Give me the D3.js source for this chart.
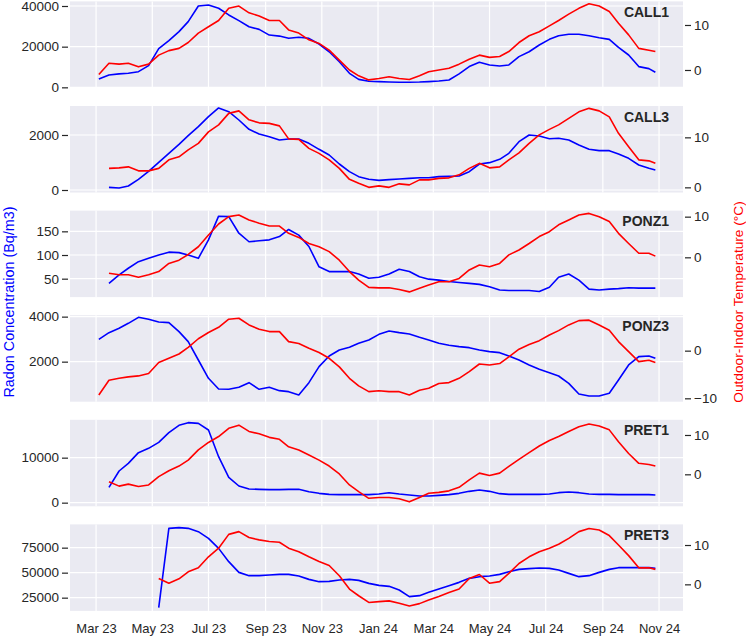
<!DOCTYPE html>
<html><head><meta charset="utf-8">
<script src="https://cdn.jsdelivr.net/npm/d3@7"></script>
<style>body{margin:0;background:#fff}svg{display:block;font-family:"Liberation Sans",Arial,sans-serif}</style>
</head><body><svg id="c" width="746" height="636"></svg>
<script>
const dates = ["2023-03-04","2023-03-15","2023-03-26","2023-04-05","2023-04-16","2023-04-27","2023-05-08","2023-05-19","2023-05-30","2023-06-09","2023-06-20","2023-07-01","2023-07-12","2023-07-23","2023-08-03","2023-08-14","2023-08-25","2023-09-05","2023-09-16","2023-09-26","2023-10-07","2023-10-18","2023-10-29","2023-11-09","2023-11-20","2023-12-01","2023-12-11","2023-12-22",
"2024-01-02","2024-01-13","2024-01-24","2024-02-04","2024-02-15","2024-02-25","2024-03-07","2024-03-18","2024-03-29","2024-04-09","2024-04-20","2024-05-01","2024-05-12","2024-05-22","2024-06-02","2024-06-13","2024-06-24","2024-07-05","2024-07-15","2024-07-26","2024-08-06","2024-08-17","2024-08-28","2024-09-08","2024-09-18","2024-09-29","2024-10-10","2024-10-21","2024-10-28"];

const sites = ["CALL1","CALL3","PONZ1","PONZ3","PRET1","PRET3"];

const call1Radon = [4100,6100,6600,6900,7700,10700,19000,23000,27400,32300,40000,40500,38900,35600,32800,29800,28500,25700,25200,24100,24600,24100,21300,17500,12600,6900,3900,3000,
2800,2600,2500,2500,2600,2800,3100,3600,6600,10200,12300,11000,10500,11000,15100,17500,20800,23600,25400,26100,26100,25400,24400,23600,19700,15900,10200,9200,7400];
const call1Temp = [-1.0,1.5,1.3,1.5,0.7,1.3,3.3,4.3,4.8,6.1,8.2,9.6,11.0,13.7,14.2,12.7,12.0,11.0,11.0,8.9,8.2,6.7,5.9,4.4,2.2,0.0,-1.3,-2.2,
-1.9,-1.5,-1.9,-2.1,-1.3,-0.4,0.0,0.4,1.3,2.4,3.3,2.8,3.0,4.1,6.1,7.6,8.5,9.8,11.0,12.4,13.7,14.7,14.2,13.0,10.4,7.8,4.8,4.4,4.1];

const call3Radon = [null,97,73,145,388,679,1006,1333,1660,1976,2303,2666,2982,2848,2545,2206,2036,1939,1818,1854,1854,1697,1479,1273,945,667,485,388,
351,376,400,424,448,448,485,497,509,667,945,994,1115,1333,1757,2000,1963,1866,1879,1818,1636,1479,1430,1430,1309,1151,909,788,727];
const call3Temp = [null,3.8,3.9,4.1,3.3,3.3,3.8,5.5,6.1,7.5,8.8,11.1,12.5,14.8,15.3,13.5,12.9,12.8,12.3,9.7,9.6,7.8,6.8,5.5,3.8,1.6,0.8,0.0,
0.3,0.0,0.7,0.5,1.5,1.5,1.8,1.9,2.5,3.8,4.8,3.9,4.1,5.5,6.9,8.8,10.5,11.6,12.5,13.8,15.1,15.8,15.3,14.1,10.8,8.1,5.5,5.3,4.8];

const ponz1Radon = [null,40,58,72,86,93,100,106,105,100,93,132,182,181,146,128,130,132,139,154,142,118,75,65,65,65,60,51,
53,60,70,65,54,49,47,44,42,40,38,33,26,25,25,25,23,32,53,60,47,28,26,28,29,31,30,30,30];
const ponz1Temp = [null,-3.9,-4.3,-4.3,-4.9,-4.3,-3.5,-1.5,-0.7,0.7,2.6,5.5,8.2,10.0,10.4,9.2,8.4,7.7,7.7,5.9,4.9,3.4,2.6,1.4,-0.7,-3.5,-5.6,-7.4,
-7.5,-7.5,-7.9,-8.5,-7.6,-6.8,-6.0,-6.0,-5.2,-3.1,-1.9,-2.3,-1.5,0.6,1.8,3.4,5.1,6.3,8.0,9.2,10.4,10.8,10.0,8.8,5.9,3.4,1.0,1.0,0.3];

const ponz3Radon = [2990,3289,3481,3703,3970,3881,3762,3733,3333,2889,2074,1260,786,771,860,1067,771,860,712,667,519,1067,1778,2252,2518,2637,2815,2963,
3214,3363,3289,3229,3081,2963,2815,2726,2666,2622,2518,2444,2400,2252,2074,1852,1659,1511,1363,1037,563,475,475,593,1185,1852,2222,2252,2148];
const ponz3Temp = [-9.3,-6.2,-5.8,-5.5,-5.3,-4.8,-2.5,-1.6,-0.7,0.7,2.5,3.8,4.9,6.6,6.8,5.4,4.5,4.0,4.0,1.9,1.5,0.5,-0.4,-1.6,-3.4,-5.8,-7.4,-8.6,
-8.4,-8.6,-8.6,-9.3,-8.3,-7.9,-6.9,-6.7,-5.8,-4.4,-2.8,-3.0,-2.7,-1.3,0.3,1.3,2.1,3.3,4.2,5.4,6.3,6.4,5.4,4.3,1.9,-0.2,-2.3,-2.0,-2.5];

const pret1Radon = [null,3407,7037,8741,11111,12074,13407,15556,17185,17778,17630,16148,10222,5630,3704,3037,2963,2889,2889,2963,2963,2444,2074,1852,1778,1778,1778,1778,
1926,2222,1926,1704,1481,1481,1630,1778,2074,2519,2815,2519,2000,1852,1852,1852,1852,1926,2222,2370,2222,1926,1852,1852,1778,1778,1778,1778,1704];
const pret1Temp = [null,-1.9,-3.0,-2.5,-3.1,-2.7,-0.6,0.9,2.1,3.6,6.2,8.1,9.6,11.7,12.5,10.9,10.3,9.4,8.9,7.0,6.2,4.9,3.6,2.1,0.1,-2.7,-4.4,-6.1,
-5.9,-5.9,-6.2,-7.0,-5.9,-4.8,-4.6,-4.2,-3.3,-1.4,0.3,-0.3,0.3,2.0,3.8,5.5,7.2,8.6,9.6,10.9,12.1,12.8,12.3,11.3,8.3,5.3,2.8,2.5,2.1];

const pret3Radon = [null,null,null,null,null,null,15000,94300,95000,94300,91000,84300,74300,61000,50300,47000,47000,47700,48300,48300,46700,43300,41000,41300,42700,43300,42300,39300,
37300,36300,32700,26000,27000,30300,33700,37000,40300,44300,46000,46700,48300,51000,53300,54000,54700,54300,52700,49300,46000,47000,50300,53300,55000,55000,55000,55000,54300];
const pret3Temp = [null,null,null,null,null,null,1.5,0.3,1.4,3.2,4.2,7.0,9.2,12.7,13.4,11.9,11.3,10.9,10.7,9.2,8.3,7.0,5.8,4.8,2.2,-1.2,-2.9,-4.6,
-4.4,-4.2,-4.8,-5.5,-4.9,-4.0,-3.1,-2.1,-1.2,1.5,2.5,0.3,0.7,2.8,5.3,7.0,8.3,9.2,10.2,11.7,13.4,14.2,13.8,12.4,10.0,7.3,4.2,4.2,3.8];

const radonSeries = [call1Radon, call3Radon, ponz1Radon, ponz3Radon, pret1Radon, pret3Radon];
const tempSeries = [call1Temp, call3Temp, ponz1Temp, ponz3Temp, pret1Temp, pret3Temp];

const radonTicks = [[0,20000,40000],[0,2000],[50,100,150],[2000,4000],[0,10000],[25000,50000,75000]];
const tempTicks = [[0,10],[0,10],[0,10],[-10,0],[0,10],[0,10]];
const radonDomains = [[-279,42261],[-91,3054],[11.1,193.8],[221,4064],[-807,18414],[11770,98262]];
const tempDomains = [[-3.98,15.24],[-1.03,16.27],[-9.78,11.49],[-10.71,7.44],[-8.13,13.86],[-6.75,15.24]];

const xTickDates = ["2023-03-01","2023-05-01","2023-07-01","2023-09-01","2023-11-01","2024-01-01","2024-03-01","2024-05-01","2024-07-01","2024-09-01","2024-11-01"];
const xTickLabels = ["Mar 23","May 23","Jul 23","Sep 23","Nov 23","Jan 24","Mar 24","May 24","Jul 24","Sep 24","Nov 24"];

const parse = d3.utcParse("%Y-%m-%d");
const L = 70, R = 683, PH = 86.5, STEP = 104.6, TOP0 = 1.4;
const TXT = "#262626";
const x = d3.scaleUtc().domain([new Date(Date.UTC(2023,0,31,17)), new Date(Date.UTC(2024,10,27))]).range([L, R]);
const tickDates = xTickDates.map(parse);
const svg = d3.select("#c");
svg.append("rect").attr("width",746).attr("height",636).attr("fill","#fff");
const defs = svg.append("defs");
const fmt = d3.format("d");

sites.forEach((name, i) => {
  const top = TOP0 + STEP*i, bot = top + PH;
  const yL = d3.scaleLinear().domain(radonDomains[i]).range([bot, top]);
  const yR = d3.scaleLinear().domain(tempDomains[i]).range([bot, top]);
  const g = svg.append("g");
  g.append("rect").attr("x",L).attr("y",top).attr("width",R-L).attr("height",PH).attr("fill","#EAEAF2");
  defs.append("clipPath").attr("id","cp"+i).append("rect").attr("x",L).attr("y",top).attr("width",R-L).attr("height",PH);
  g.selectAll(".vg").data(tickDates.filter(d => x(d) > L && x(d) < R)).join("line")
    .attr("x1", d => x(d)).attr("x2", d => x(d)).attr("y1", top).attr("y2", bot)
    .attr("stroke","#fff").attr("stroke-width",1.2);
  g.selectAll(".hg").data(radonTicks[i]).join("line")
    .attr("x1", L).attr("x2", R).attr("y1", d => yL(d)).attr("y2", d => yL(d))
    .attr("stroke","#fff").attr("stroke-width",1.2);
  const la = g.append("g").attr("transform","translate(68,0)")
    .call(d3.axisLeft(yL).tickValues(radonTicks[i]).tickFormat(fmt).tickSize(6).tickPadding(3));
  la.select(".domain").remove();
  la.selectAll("line").attr("stroke",TXT).attr("stroke-width",1.2);
  la.selectAll("text").attr("fill",TXT).attr("font-size","13.5px").attr("font-family","Liberation Sans, Arial, sans-serif");
  const ra = g.append("g").attr("transform","translate(685,0)")
    .call(d3.axisRight(yR).tickValues(tempTicks[i]).tickFormat(fmt).tickSize(6).tickPadding(3));
  ra.select(".domain").remove();
  ra.selectAll("line").attr("stroke",TXT).attr("stroke-width",1.2);
  ra.selectAll("text").attr("fill",TXT).attr("font-size","13.5px").attr("font-family","Liberation Sans, Arial, sans-serif");
  const rows = dates.map((d, k) => ({d: parse(d), r: radonSeries[i][k], t: tempSeries[i][k]}));
  const lb = d3.line().defined(d => d.r != null).x(d => x(d.d)).y(d => yL(d.r));
  const lr = d3.line().defined(d => d.t != null).x(d => x(d.d)).y(d => yR(d.t));
  const pg = g.append("g").attr("clip-path","url(#cp"+i+")");
  pg.append("path").datum(rows).attr("d", lb).attr("fill","none").attr("stroke","#0000FF").attr("stroke-width",1.6).attr("stroke-linejoin","round");
  pg.append("path").datum(rows).attr("d", lr).attr("fill","none").attr("stroke","#FF0000").attr("stroke-width",1.6).attr("stroke-linejoin","round");
  g.append("text").attr("x",669).attr("y",top+15.5).attr("text-anchor","end")
    .attr("font-weight","bold").attr("font-size","14px").attr("fill",TXT).text(name);
  if (i === sites.length - 1) {
    const xa = g.append("g").attr("transform",`translate(0,${bot})`)
      .call(d3.axisBottom(x).tickValues(tickDates).tickFormat((d,k) => xTickLabels[k]).tickSize(0).tickPadding(12.5));
    xa.select(".domain").remove();
    xa.selectAll("text").attr("fill",TXT).attr("font-size","13px").attr("font-family","Liberation Sans, Arial, sans-serif");
  }
});

svg.append("text").attr("transform","translate(9,302) rotate(-90)").attr("text-anchor","middle")
  .attr("dominant-baseline","central").attr("font-size","14.4px").attr("fill","#0000FF").text("Radon Concentration (Bq/m3)");
svg.append("text").attr("transform","translate(738,302) rotate(-90)").attr("text-anchor","middle")
  .attr("dominant-baseline","central").attr("font-size","13.7px").attr("fill","#FF0000").text("Outdoor-Indoor Temperature (°C)");
</script></body></html>
